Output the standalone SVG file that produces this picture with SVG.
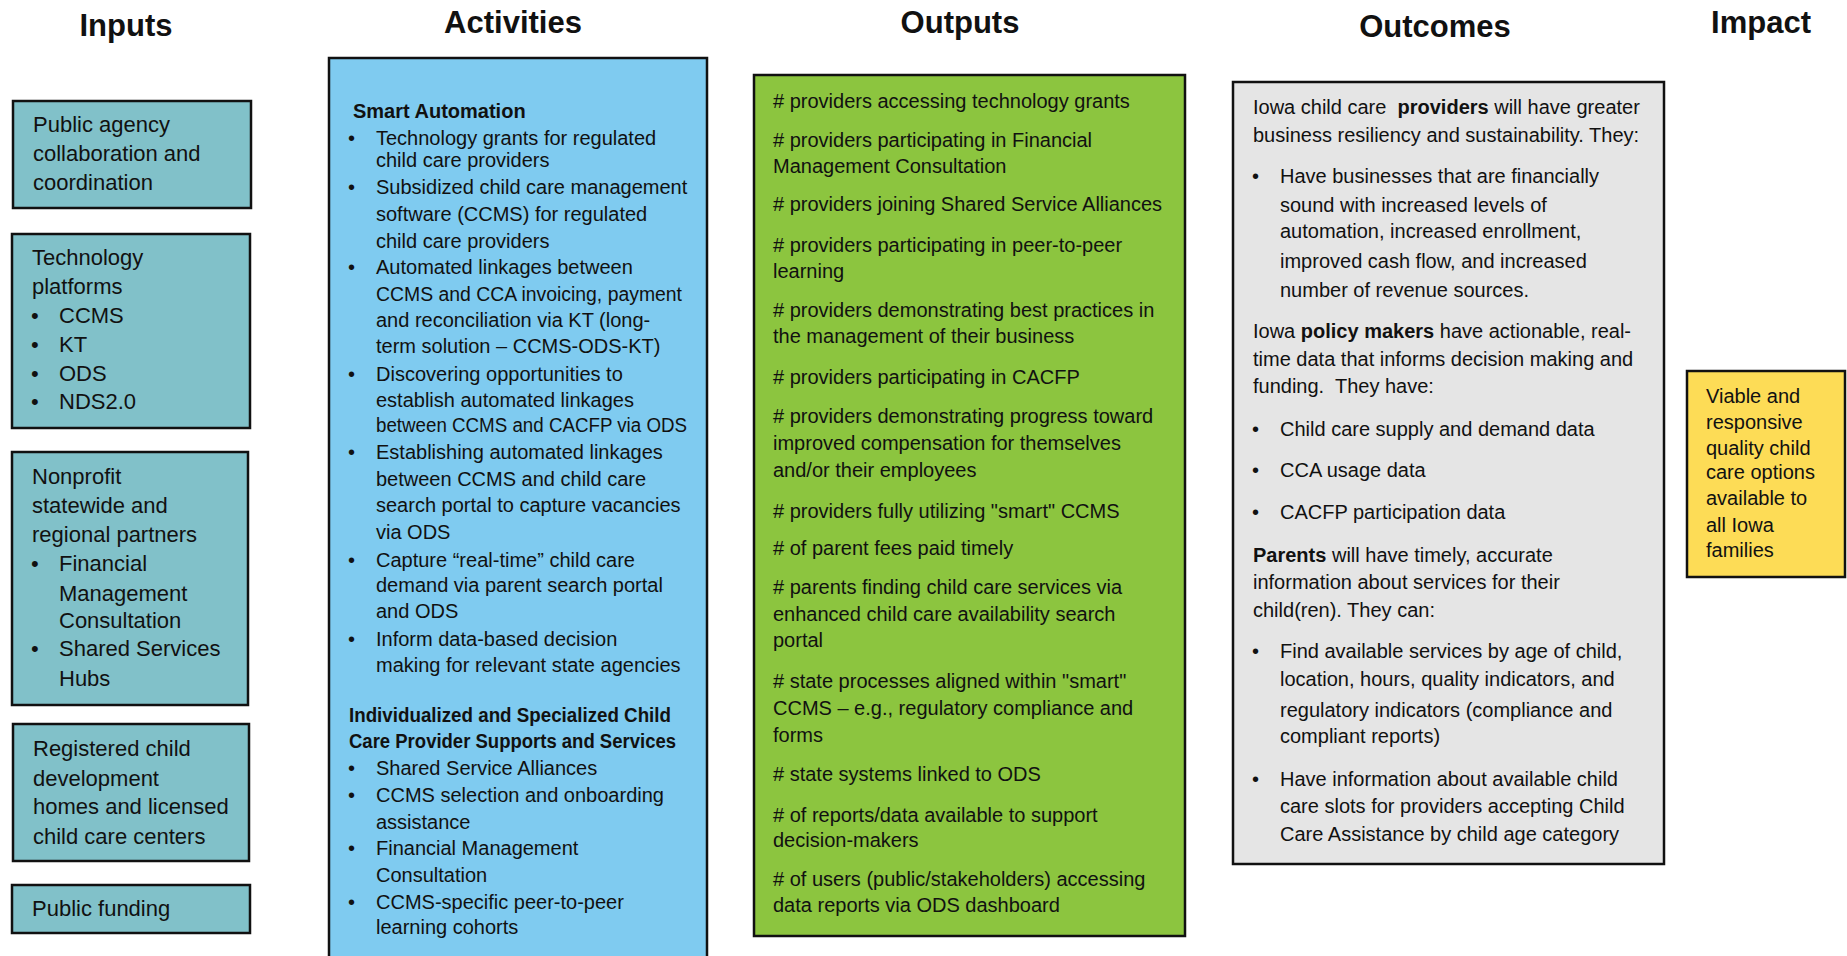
<svg xmlns="http://www.w3.org/2000/svg" width="1847" height="956" viewBox="0 0 1847 956">
<style>
text{font-family:"Liberation Sans",Arial,sans-serif;fill:#111;white-space:pre}
.h{font-size:31px;font-weight:bold;text-anchor:middle}
.in{font-size:22px}
.t{font-size:20px}
.b{font-weight:bold}
.box{stroke:#111;stroke-width:2.5}
.inp{fill:#81C1C9}
.act{fill:#7FCBF0}
.out{fill:#8CC53F}
.oc{fill:#E5E5E5}
.imp{fill:#FDDC56}
</style>
<rect width="1847" height="956" fill="#fff"/>
<g id="headers">
<text class="h" x="126" y="36">Inputs</text>
<text class="h" x="513" y="33">Activities</text>
<text class="h" x="960" y="33">Outputs</text>
<text class="h" x="1435" y="37">Outcomes</text>
<text class="h" x="1761" y="33">Impact</text>
</g>
<g id="connectors"></g>
<g id="input-public-agency">
<rect class="box inp" x="13" y="101" width="238" height="107"/>
<text class="in" x="33" y="132">Public agency</text>
<text class="in" x="33" y="161">collaboration and</text>
<text class="in" x="33" y="190">coordination</text>
</g>
<g id="input-technology">
<rect class="box inp" x="12" y="234" width="238" height="194"/>
<text class="in" x="32" y="265">Technology</text>
<text class="in" x="32" y="294">platforms</text>
<text class="in" x="31" y="323">•</text><text class="in" x="59" y="323">CCMS</text>
<text class="in" x="31" y="352">•</text><text class="in" x="59" y="352">KT</text>
<text class="in" x="31" y="381">•</text><text class="in" x="59" y="381">ODS</text>
<text class="in" x="31" y="409">•</text><text class="in" x="59" y="409">NDS2.0</text>
</g>
<g id="input-nonprofit">
<rect class="box inp" x="12" y="452" width="236" height="253"/>
<text class="in" x="32" y="484">Nonprofit</text>
<text class="in" x="32" y="513">statewide and</text>
<text class="in" x="32" y="542">regional partners</text>
<text class="in" x="31" y="571">•</text><text class="in" x="59" y="571">Financial</text>
<text class="in" x="59" y="601">Management</text>
<text class="in" x="59" y="628">Consultation</text>
<text class="in" x="31" y="656">•</text><text class="in" x="59" y="656">Shared Services</text>
<text class="in" x="59" y="686">Hubs</text>
</g>
<g id="input-registered">
<rect class="box inp" x="13" y="724" width="236" height="137"/>
<text class="in" x="33" y="756">Registered child</text>
<text class="in" x="33" y="786">development</text>
<text class="in" x="33" y="814">homes and licensed</text>
<text class="in" x="33" y="844">child care centers</text>
</g>
<g id="input-funding">
<rect class="box inp" x="12" y="885" width="238" height="48"/>
<text class="in" x="32" y="916">Public funding</text>
</g>
<g id="activities">
<rect class="box act" x="329" y="58" width="378" height="920"/>
<text class="t b" x="353" y="118">Smart Automation</text>
<text class="t" x="348" y="145">•</text><text class="t" x="376" y="145">Technology grants for regulated</text>
<text class="t" x="376" y="167">child care providers</text>
<text class="t" x="348" y="194">•</text><text class="t" x="376" y="194">Subsidized child care management</text>
<text class="t" x="376" y="221">software (CCMS) for regulated</text>
<text class="t" x="376" y="248">child care providers</text>
<text class="t" x="348" y="274">•</text><text class="t" x="376" y="274">Automated linkages between</text>
<text class="t" x="376" y="301" textLength="306" lengthAdjust="spacingAndGlyphs">CCMS and CCA invoicing, payment</text>
<text class="t" x="376" y="327">and reconciliation via KT (long-</text>
<text class="t" x="376" y="353">term solution – CCMS-ODS-KT)</text>
<text class="t" x="348" y="381">•</text><text class="t" x="376" y="381">Discovering opportunities to</text>
<text class="t" x="376" y="407">establish automated linkages</text>
<text class="t" x="376" y="432" textLength="311" lengthAdjust="spacingAndGlyphs">between CCMS and CACFP via ODS</text>
<text class="t" x="348" y="459">•</text><text class="t" x="376" y="459">Establishing automated linkages</text>
<text class="t" x="376" y="486">between CCMS and child care</text>
<text class="t" x="376" y="512">search portal to capture vacancies</text>
<text class="t" x="376" y="539">via ODS</text>
<text class="t" x="348" y="567">•</text><text class="t" x="376" y="567">Capture “real-time” child care</text>
<text class="t" x="376" y="592">demand via parent search portal</text>
<text class="t" x="376" y="618">and ODS</text>
<text class="t" x="348" y="646">•</text><text class="t" x="376" y="646">Inform data-based decision</text>
<text class="t" x="376" y="672">making for relevant state agencies</text>
<text class="t b" x="349" y="722" textLength="322" lengthAdjust="spacingAndGlyphs">Individualized and Specialized Child</text>
<text class="t b" x="349" y="748" textLength="327" lengthAdjust="spacingAndGlyphs">Care Provider Supports and Services</text>
<text class="t" x="348" y="775">•</text><text class="t" x="376" y="775">Shared Service Alliances</text>
<text class="t" x="348" y="802">•</text><text class="t" x="376" y="802">CCMS selection and onboarding</text>
<text class="t" x="376" y="829">assistance</text>
<text class="t" x="348" y="855">•</text><text class="t" x="376" y="855">Financial Management</text>
<text class="t" x="376" y="882">Consultation</text>
<text class="t" x="348" y="909">•</text><text class="t" x="376" y="909">CCMS-specific peer-to-peer</text>
<text class="t" x="376" y="934">learning cohorts</text>
</g>
<g id="outputs">
<rect class="box out" x="754" y="75" width="431" height="861"/>
<text class="t" x="773" y="108"># providers accessing technology grants</text>
<text class="t" x="773" y="147"># providers participating in Financial</text>
<text class="t" x="773" y="173">Management Consultation</text>
<text class="t" x="773" y="211"># providers joining Shared Service Alliances</text>
<text class="t" x="773" y="252"># providers participating in peer-to-peer</text>
<text class="t" x="773" y="278">learning</text>
<text class="t" x="773" y="317"># providers demonstrating best practices in</text>
<text class="t" x="773" y="343">the management of their business</text>
<text class="t" x="773" y="384"># providers participating in CACFP</text>
<text class="t" x="773" y="423"># providers demonstrating progress toward</text>
<text class="t" x="773" y="450">improved compensation for themselves</text>
<text class="t" x="773" y="477">and/or their employees</text>
<text class="t" x="773" y="518"># providers fully utilizing "smart" CCMS</text>
<text class="t" x="773" y="555"># of parent fees paid timely</text>
<text class="t" x="773" y="594"># parents finding child care services via</text>
<text class="t" x="773" y="621">enhanced child care availability search</text>
<text class="t" x="773" y="647">portal</text>
<text class="t" x="773" y="688"># state processes aligned within "smart"</text>
<text class="t" x="773" y="715">CCMS – e.g., regulatory compliance and</text>
<text class="t" x="773" y="742">forms</text>
<text class="t" x="773" y="781"># state systems linked to ODS</text>
<text class="t" x="773" y="822"># of reports/data available to support</text>
<text class="t" x="773" y="847">decision-makers</text>
<text class="t" x="773" y="886"># of users (public/stakeholders) accessing</text>
<text class="t" x="773" y="912">data reports via ODS dashboard</text>
</g>
<g id="outcomes">
<rect class="box oc" x="1233" y="82" width="431" height="782"/>
<text class="t" x="1253" y="114">Iowa child care  <tspan class="b">providers</tspan> will have greater</text>
<text class="t" x="1253" y="142">business resiliency and sustainability. They:</text>
<text class="t" x="1252" y="183">•</text><text class="t" x="1280" y="183">Have businesses that are financially</text>
<text class="t" x="1280" y="212">sound with increased levels of</text>
<text class="t" x="1280" y="238">automation, increased enrollment,</text>
<text class="t" x="1280" y="268">improved cash flow, and increased</text>
<text class="t" x="1280" y="297">number of revenue sources.</text>
<text class="t" x="1253" y="338">Iowa <tspan class="b">policy makers</tspan> have actionable, real-</text>
<text class="t" x="1253" y="366">time data that informs decision making and</text>
<text class="t" x="1253" y="393">funding.  They have:</text>
<text class="t" x="1252" y="436">•</text><text class="t" x="1280" y="436">Child care supply and demand data</text>
<text class="t" x="1252" y="477">•</text><text class="t" x="1280" y="477">CCA usage data</text>
<text class="t" x="1252" y="519">•</text><text class="t" x="1280" y="519">CACFP participation data</text>
<text class="t" x="1253" y="562"><tspan class="b">Parents</tspan> will have timely, accurate</text>
<text class="t" x="1253" y="589">information about services for their</text>
<text class="t" x="1253" y="617">child(ren). They can:</text>
<text class="t" x="1252" y="658">•</text><text class="t" x="1280" y="658">Find available services by age of child,</text>
<text class="t" x="1280" y="686">location, hours, quality indicators, and</text>
<text class="t" x="1280" y="717">regulatory indicators (compliance and</text>
<text class="t" x="1280" y="743">compliant reports)</text>
<text class="t" x="1252" y="786">•</text><text class="t" x="1280" y="786">Have information about available child</text>
<text class="t" x="1280" y="813">care slots for providers accepting Child</text>
<text class="t" x="1280" y="841">Care Assistance by child age category</text>
</g>
<g id="impact">
<rect class="box imp" x="1687" y="371" width="158" height="206"/>
<text class="t" x="1706" y="403">Viable and</text>
<text class="t" x="1706" y="429">responsive</text>
<text class="t" x="1706" y="455">quality child</text>
<text class="t" x="1706" y="479">care options</text>
<text class="t" x="1706" y="505">available to</text>
<text class="t" x="1706" y="532">all Iowa</text>
<text class="t" x="1706" y="557">families</text>
</g>
</svg>
